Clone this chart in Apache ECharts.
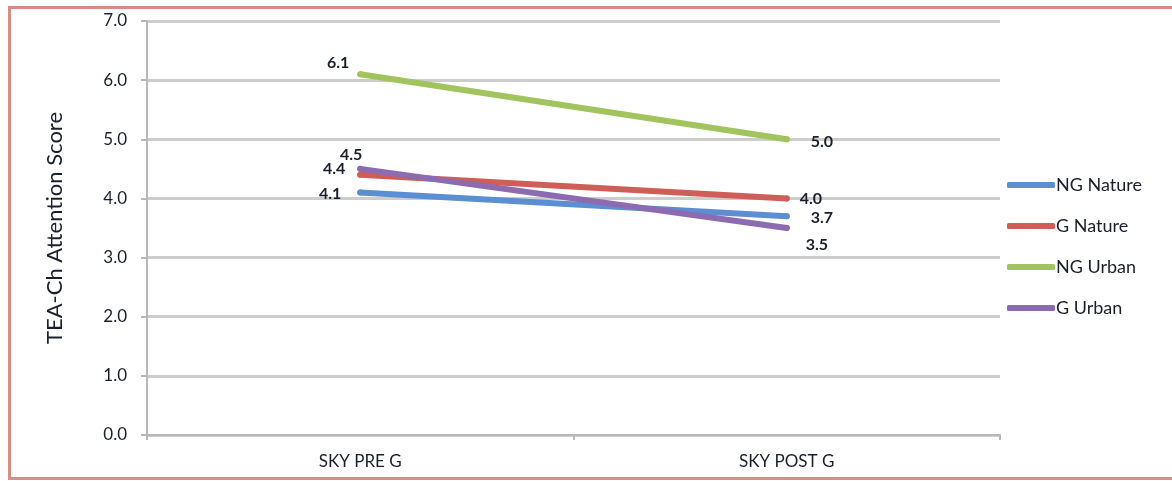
<!DOCTYPE html>
<html>
<head>
<meta charset="utf-8">
<script src="https://cdn.jsdelivr.net/npm/echarts@6/dist/echarts.min.js"></script>
<style>
  html, body { margin: 0; padding: 0; background: #fff; overflow: hidden; }
  #chart { position: absolute; left: 0; top: 0; width: 1172px; height: 481px; }
</style>
</head>
<body>
<div id="chart"></div>
<script>
// Categories and series values (TEA-Ch attention scores)
const categories = ['SKY PRE G', 'SKY POST G'];
const ngNature = [4.1, 3.7];
const gNature  = [4.4, 4.0];
const ngUrban  = [6.1, 5.0];
const gUrban   = [4.5, 3.5];
const yTicks = [0, 1, 2, 3, 4, 5, 6, 7];

const FONT = 'Lato, "Open Sans", sans-serif';
const TXT = '#1b1f2c';

// Per-point label nudges so overlapping value labels stay readable
const labelOffsets = {
  'NG Nature': [[-16, 1], [21, 2]],
  'G Nature':  [[-12, -6], [10, 0]],
  'NG Urban':  [[-8, -11], [21, 3]],
  'G Urban':   [[5, -14], [16, 17]]
};

function makeSeries(name, values, color) {
  return {
    name: name,
    type: 'line',
    data: values.map((v, i) => ({
      value: v,
      label: {
        show: true,
        position: i === 0 ? 'left' : 'right',
        distance: 0,
        offset: labelOffsets[name][i],
        formatter: p => p.value.toFixed(1),
        fontFamily: FONT, fontWeight: 'bold', fontSize: 16, color: TXT
      }
    })),
    symbol: 'circle',
    symbolSize: 6,
    showSymbol: true,
    lineStyle: { color: color, width: 6, cap: 'round' },
    itemStyle: { color: color, borderWidth: 0 },
    emphasis: { disabled: true },
    z: 3
  };
}

const chart = echarts.init(document.getElementById('chart'), null, { renderer: 'canvas' });
chart.setOption({
  animation: false,
  backgroundColor: '#fff',
  // outer frame: top, left and bottom edges (the right edge runs off the page)
  graphic: [{
    type: 'polyline',
    shape: { points: [[1172, 7.5], [9.5, 7.5], [9.5, 478.5], [1172, 478.5]] },
    style: { fill: null, stroke: '#d98b85', lineWidth: 3 },
    silent: true, z: -1
  }],
  grid: { left: 147, right: 172, top: 21, bottom: 46, containLabel: false },
  legend: {
    orient: 'vertical',
    left: 1002, top: 171,
    itemWidth: 48, itemHeight: 6, itemGap: 23,
    icon: 'roundRect',
    textStyle: { fontFamily: FONT, fontSize: 18, color: TXT, padding: [0, 0, 0, -4] },
    data: ['NG Nature', 'G Nature', 'NG Urban', 'G Urban']
  },
  xAxis: {
    type: 'category',
    data: categories,
    boundaryGap: true,
    axisLine: { lineStyle: { color: '#b8b8b8', width: 2 } },
    axisTick: { show: true, length: 5, interval: 0, lineStyle: { color: '#b8b8b8', width: 2 } },
    axisLabel: { fontFamily: FONT, fontSize: 17, color: TXT, margin: 18 }
  },
  yAxis: {
    type: 'value',
    min: yTicks[0], max: yTicks[yTicks.length - 1], interval: 1,
    name: 'TEA-Ch Attention Score',
    nameLocation: 'middle',
    nameGap: 81,
    nameTextStyle: { fontFamily: FONT, fontSize: 22, color: TXT },
    axisLine: { show: true, lineStyle: { color: '#b8b8b8', width: 2 } },
    axisTick: { show: true, length: 6, lineStyle: { color: '#b8b8b8', width: 2 } },
    axisLabel: { fontFamily: FONT, fontSize: 17, color: TXT, margin: 20, formatter: v => v.toFixed(1) },
    splitLine: { show: true, lineStyle: { color: '#cdcdcd', width: 3 } }
  },
  series: [
    makeSeries('NG Nature', ngNature, '#5b8fd1'),
    makeSeries('G Nature', gNature, '#d05d57'),
    makeSeries('NG Urban', ngUrban, '#a2c45e'),
    makeSeries('G Urban', gUrban, '#8c6bb0')
  ]
});
</script>
</body>
</html>
